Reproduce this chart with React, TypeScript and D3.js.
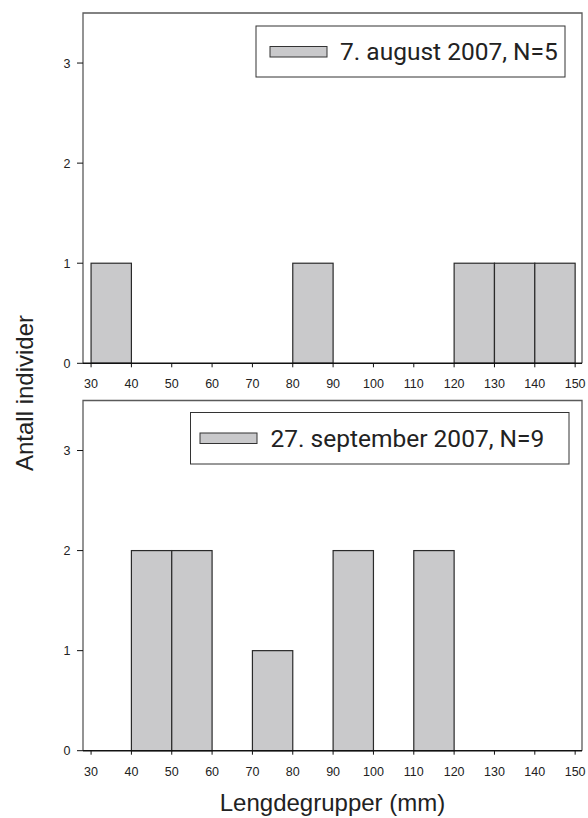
import React from "react";
import * as d3 from "d3";

// Bin starts (mm), each bin is 10 mm wide
const binStarts = [30, 40, 50, 60, 70, 80, 90, 100, 110, 120, 130, 140];
const countsAugust = [1, 0, 0, 0, 0, 1, 0, 0, 0, 1, 1, 1];
const countsSeptember = [0, 2, 2, 0, 1, 0, 2, 0, 2, 0, 0, 0];
const binWidth = 10;
const xTicks = [30, 40, 50, 60, 70, 80, 90, 100, 110, 120, 130, 140, 150];
const yTicks = [0, 1, 2, 3];
const legendAugust = "7. august 2007, N=5";
const legendSeptember = "27. september 2007, N=9";
const xTitle = "Lengdegrupper (mm)";
const yTitle = "Antall individer";

const W = 588;
const H = 818;
const left = 83;
const right = 582;
const barFill = "#c9c9cb";
const tickFont = "'Liberation Sans', Arial, sans-serif";

const x = d3.scaleLinear().domain([28, 151.7]).range([left, right]);

type PanelProps = {
  top: number;
  bottom: number;
  counts: number[];
  legend: string;
  lg: { x0: number; x1: number; y0: number; y1: number; sx0: number; sx1: number; sy0: number; sy1: number; tx: number; ty: number };
};

function Panel({ top, bottom, counts, legend, lg }: PanelProps) {
  const y = d3.scaleLinear().domain([0, 3.5]).range([bottom, top]);
  return (
    <g>
      {/* frame */}
      <path
        d={`M${left},${bottom} V${top} H${right} V${bottom}`}
        fill="none"
        stroke="#5a5a5a"
        strokeWidth={1.3}
      />
      {/* bars */}
      {binStarts.map((b, i) =>
        counts[i] > 0 ? (
          <rect
            key={b}
            x={x(b)}
            y={y(counts[i])}
            width={x(b + binWidth) - x(b)}
            height={y(0) - y(counts[i])}
            fill={barFill}
            stroke="#2a2a2a"
            strokeWidth={1.2}
          />
        ) : null
      )}
      {/* x axis */}
      <line x1={left} x2={right} y1={y(0)} y2={y(0)} stroke="#111" strokeWidth={1.4} />
      {xTicks.map((t) => (
        <g key={t}>
          <line x1={x(t)} x2={x(t)} y1={y(0)} y2={y(0) + 4} stroke="#111" strokeWidth={1} />
          <text
            x={x(t)}
            y={y(0) + 25}
            textAnchor="middle"
            fontFamily={tickFont}
            fontSize={12.5}
            fill="#222"
          >
            {t}
          </text>
        </g>
      ))}
      {/* y axis ticks */}
      {yTicks.map((t) => (
        <g key={t}>
          <line x1={left - 6} x2={left} y1={y(t)} y2={y(t)} stroke="#111" strokeWidth={1} />
          <text
            x={left - 12.5}
            y={y(t)}
            dy="0.36em"
            textAnchor="end"
            fontFamily={tickFont}
            fontSize={12.5}
            fill="#222"
          >
            {t}
          </text>
        </g>
      ))}
      {/* legend */}
      <rect
        x={lg.x0}
        y={lg.y0}
        width={lg.x1 - lg.x0}
        height={lg.y1 - lg.y0}
        fill="#fff"
        stroke="#333"
        strokeWidth={1}
      />
      <rect
        x={lg.sx0}
        y={lg.sy0}
        width={lg.sx1 - lg.sx0}
        height={lg.sy1 - lg.sy0}
        fill={barFill}
        stroke="#333"
        strokeWidth={1}
      />
      <text x={lg.tx} y={lg.ty} fontFamily="Roboto, sans-serif" fontSize={24.5} fill="#222">
        {legend}
      </text>
    </g>
  );
}

export default function App() {
  return (
    <svg
      width={W}
      height={H}
      viewBox={`0 0 ${W} ${H}`}
      style={{ position: "absolute", left: 0, top: 0, background: "#fff" }}
    >
      <rect x={0} y={0} width={W} height={H} fill="#fff" />
      <Panel
        top={13}
        bottom={363.3}
        counts={countsAugust}
        legend={legendAugust}
        lg={{ x0: 256, x1: 565, y0: 26, y1: 77, sx0: 270, sx1: 327, sy0: 46.5, sy1: 57, tx: 340, ty: 59.5 }}
      />
      <Panel
        top={400.5}
        bottom={750.7}
        counts={countsSeptember}
        legend={legendSeptember}
        lg={{ x0: 190.5, x1: 569, y0: 412.5, y1: 464, sx0: 200, sx1: 257, sy0: 433, sy1: 443.5, tx: 270.5, ty: 446.7 }}
      />
      <text
        x={(left + right) / 2}
        y={811}
        textAnchor="middle"
        fontFamily={tickFont}
        fontSize={24}
        fill="#222"
      >
        {xTitle}
      </text>
      <text
        transform={`translate(33,393) rotate(-90)`}
        textAnchor="middle"
        fontFamily={tickFont}
        fontSize={24}
        fill="#222"
      >
        {yTitle}
      </text>
    </svg>
  );
}
